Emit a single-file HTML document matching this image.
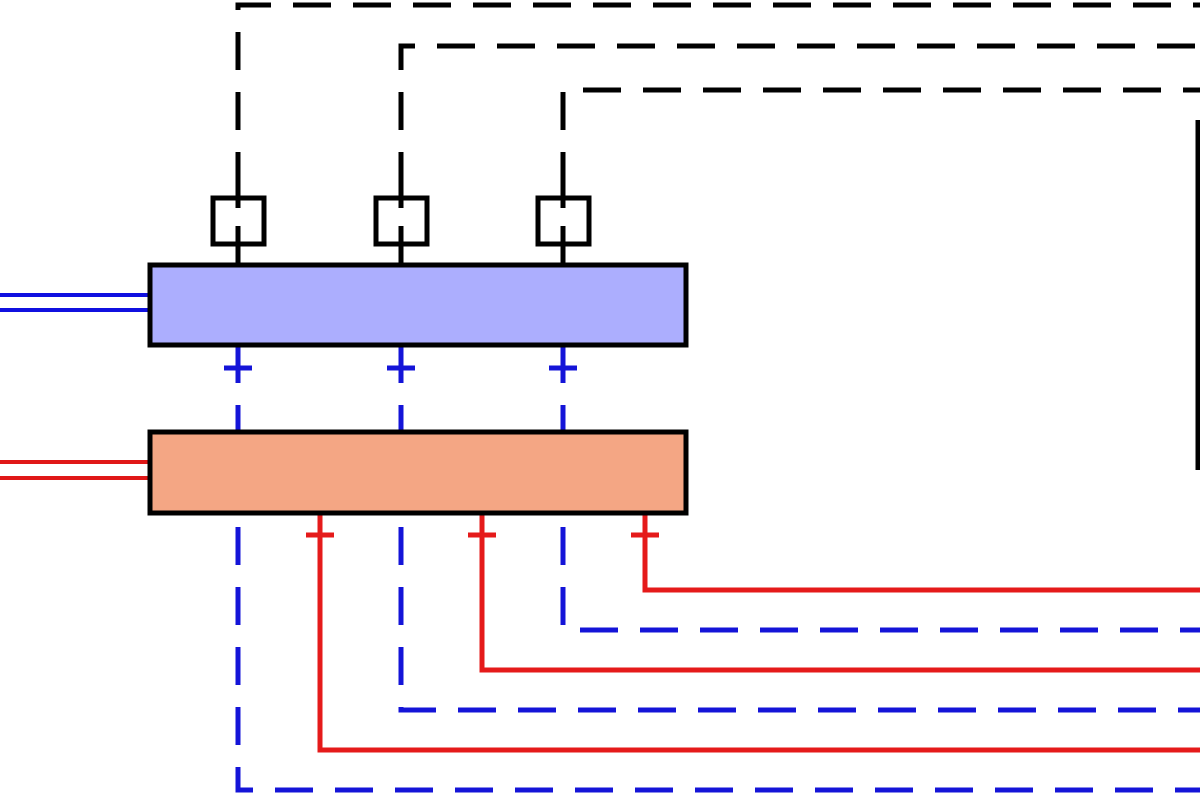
<!DOCTYPE html>
<html><head><style>html,body{margin:0;padding:0;background:#fff;width:1200px;height:800px;overflow:hidden}</style></head>
<body>
<svg width="1200" height="800" viewBox="0 0 1200 800" xmlns="http://www.w3.org/2000/svg">
<g fill="none" stroke-width="5">
<g stroke="#000" stroke-dasharray="38 22">
<path d="M238 190 V5 H1200"/>
<path d="M401 190 V46 H1200"/>
<path d="M563 190 V90 H1200"/>
</g>
<g stroke="#000">
<rect x="213" y="198" width="51" height="46" stroke-width="5"/>
<rect x="376" y="198" width="51" height="46" stroke-width="5"/>
<rect x="538" y="198" width="51" height="46" stroke-width="5"/>
<path d="M238 190 V208 M238 226 V265 M401 190 V208 M401 226 V265 M563 190 V208 M563 226 V265"/>
<path d="M1198 120 V470" stroke-width="5"/>
</g>
<path d="M0 295 H150 M0 310 H150" stroke="#1010e0" stroke-width="4"/>
<path d="M0 462 H150 M0 478 H150" stroke="#e01818" stroke-width="4"/>
<g stroke="#1414d8">
<path d="M238 345 V383 M224 368 H252 M238 405 V432"/>
<path d="M401 345 V383 M387 368 H415 M401 405 V432"/>
<path d="M563 345 V383 M549 368 H577 M563 405 V432"/>
</g>
<g stroke="#1414d8" stroke-dasharray="38 22">
<path d="M238 527 V790 H1200"/>
<path d="M401 527 V710 H1200"/>
<path d="M563 527 V630 H1200"/>
</g>
<g stroke="#e51a1a">
<path d="M320 513 V750 H1200 M306 535 H334"/>
<path d="M482 513 V670 H1200 M468 535 H496"/>
<path d="M645 513 V590 H1200 M631 535 H659"/>
</g>
<rect x="150" y="265" width="536" height="80" fill="#acaefe" stroke="#000" stroke-width="5"/>
<rect x="150" y="432" width="536" height="81" fill="#f4a684" stroke="#000" stroke-width="5"/>
</g>
</svg>
</body></html>
